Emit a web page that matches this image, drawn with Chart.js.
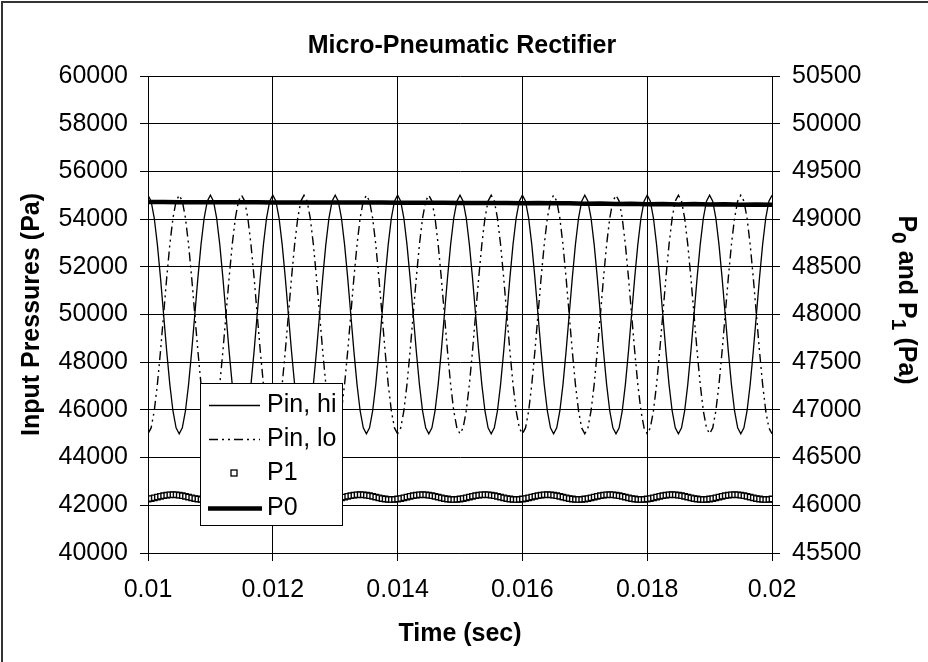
<!DOCTYPE html>
<html>
<head>
<meta charset="utf-8">
<script src="https://cdn.jsdelivr.net/npm/chart.js@4/dist/chart.umd.min.js"></script>
<style>
html,body{margin:0;padding:0;background:#fff;}
canvas{display:block;}
</style>
</head>
<body>
<canvas id="c" width="928" height="662"></canvas>
<script>
// ---- DATA ----
const time = [
0.01000,0.01005,0.01010,0.01015,0.01020,0.01025,0.01030,0.01035,0.01040,0.01045,
0.01050,0.01055,0.01060,0.01065,0.01070,0.01075,0.01080,0.01085,0.01090,0.01095,
0.01100,0.01105,0.01110,0.01115,0.01120,0.01125,0.01130,0.01135,0.01140,0.01145,
0.01150,0.01155,0.01160,0.01165,0.01170,0.01175,0.01180,0.01185,0.01190,0.01195,
0.01200,0.01205,0.01210,0.01215,0.01220,0.01225,0.01230,0.01235,0.01240,0.01245,
0.01250,0.01255,0.01260,0.01265,0.01270,0.01275,0.01280,0.01285,0.01290,0.01295,
0.01300,0.01305,0.01310,0.01315,0.01320,0.01325,0.01330,0.01335,0.01340,0.01345,
0.01350,0.01355,0.01360,0.01365,0.01370,0.01375,0.01380,0.01385,0.01390,0.01395,
0.01400,0.01405,0.01410,0.01415,0.01420,0.01425,0.01430,0.01435,0.01440,0.01445,
0.01450,0.01455,0.01460,0.01465,0.01470,0.01475,0.01480,0.01485,0.01490,0.01495,
0.01500,0.01505,0.01510,0.01515,0.01520,0.01525,0.01530,0.01535,0.01540,0.01545,
0.01550,0.01555,0.01560,0.01565,0.01570,0.01575,0.01580,0.01585,0.01590,0.01595,
0.01600,0.01605,0.01610,0.01615,0.01620,0.01625,0.01630,0.01635,0.01640,0.01645,
0.01650,0.01655,0.01660,0.01665,0.01670,0.01675,0.01680,0.01685,0.01690,0.01695,
0.01700,0.01705,0.01710,0.01715,0.01720,0.01725,0.01730,0.01735,0.01740,0.01745,
0.01750,0.01755,0.01760,0.01765,0.01770,0.01775,0.01780,0.01785,0.01790,0.01795,
0.01800,0.01805,0.01810,0.01815,0.01820,0.01825,0.01830,0.01835,0.01840,0.01845,
0.01850,0.01855,0.01860,0.01865,0.01870,0.01875,0.01880,0.01885,0.01890,0.01895,
0.01900,0.01905,0.01910,0.01915,0.01920,0.01925,0.01930,0.01935,0.01940,0.01945,
0.01950,0.01955,0.01960,0.01965,0.01970,0.01975,0.01980,0.01985,0.01990,0.01995,
0.02000];

const pinHi = [
55000,54755,54045,52939,51545,50000,48455,47061,45955,45245,
45000,45245,45955,47061,48455,50000,51545,52939,54045,54755,
55000,54755,54045,52939,51545,50000,48455,47061,45955,45245,
45000,45245,45955,47061,48455,50000,51545,52939,54045,54755,
55000,54755,54045,52939,51545,50000,48455,47061,45955,45245,
45000,45245,45955,47061,48455,50000,51545,52939,54045,54755,
55000,54755,54045,52939,51545,50000,48455,47061,45955,45245,
45000,45245,45955,47061,48455,50000,51545,52939,54045,54755,
55000,54755,54045,52939,51545,50000,48455,47061,45955,45245,
45000,45245,45955,47061,48455,50000,51545,52939,54045,54755,
55000,54755,54045,52939,51545,50000,48455,47061,45955,45245,
45000,45245,45955,47061,48455,50000,51545,52939,54045,54755,
55000,54755,54045,52939,51545,50000,48455,47061,45955,45245,
45000,45245,45955,47061,48455,50000,51545,52939,54045,54755,
55000,54755,54045,52939,51545,50000,48455,47061,45955,45245,
45000,45245,45955,47061,48455,50000,51545,52939,54045,54755,
55000,54755,54045,52939,51545,50000,48455,47061,45955,45245,
45000,45245,45955,47061,48455,50000,51545,52939,54045,54755,
55000,54755,54045,52939,51545,50000,48455,47061,45955,45245,
45000,45245,45955,47061,48455,50000,51545,52939,54045,54755,
55000];

const pinLo = [
45000,45245,45955,47061,48455,50000,51545,52939,54045,54755,
55000,54755,54045,52939,51545,50000,48455,47061,45955,45245,
45000,45245,45955,47061,48455,50000,51545,52939,54045,54755,
55000,54755,54045,52939,51545,50000,48455,47061,45955,45245,
45000,45245,45955,47061,48455,50000,51545,52939,54045,54755,
55000,54755,54045,52939,51545,50000,48455,47061,45955,45245,
45000,45245,45955,47061,48455,50000,51545,52939,54045,54755,
55000,54755,54045,52939,51545,50000,48455,47061,45955,45245,
45000,45245,45955,47061,48455,50000,51545,52939,54045,54755,
55000,54755,54045,52939,51545,50000,48455,47061,45955,45245,
45000,45245,45955,47061,48455,50000,51545,52939,54045,54755,
55000,54755,54045,52939,51545,50000,48455,47061,45955,45245,
45000,45245,45955,47061,48455,50000,51545,52939,54045,54755,
55000,54755,54045,52939,51545,50000,48455,47061,45955,45245,
45000,45245,45955,47061,48455,50000,51545,52939,54045,54755,
55000,54755,54045,52939,51545,50000,48455,47061,45955,45245,
45000,45245,45955,47061,48455,50000,51545,52939,54045,54755,
55000,54755,54045,52939,51545,50000,48455,47061,45955,45245,
45000,45245,45955,47061,48455,50000,51545,52939,54045,54755,
55000,54755,54045,52939,51545,50000,48455,47061,45955,45245,
45000];

const p1 = [
46066,46071,46078,46086,46094,46101,46106,46110,46111,46110,
46106,46101,46094,46086,46078,46071,46066,46062,46061,46062,
46066,46071,46078,46086,46094,46101,46106,46110,46111,46110,
46106,46101,46094,46086,46078,46071,46066,46062,46061,46062,
46066,46071,46078,46086,46094,46101,46106,46110,46111,46110,
46106,46101,46094,46086,46078,46071,46066,46062,46061,46062,
46066,46071,46078,46086,46094,46101,46106,46110,46111,46110,
46106,46101,46094,46086,46078,46071,46066,46062,46061,46062,
46066,46071,46078,46086,46094,46101,46106,46110,46111,46110,
46106,46101,46094,46086,46078,46071,46066,46062,46061,46062,
46066,46071,46078,46086,46094,46101,46106,46110,46111,46110,
46106,46101,46094,46086,46078,46071,46066,46062,46061,46062,
46066,46071,46078,46086,46094,46101,46106,46110,46111,46110,
46106,46101,46094,46086,46078,46071,46066,46062,46061,46062,
46066,46071,46078,46086,46094,46101,46106,46110,46111,46110,
46106,46101,46094,46086,46078,46071,46066,46062,46061,46062,
46066,46071,46078,46086,46094,46101,46106,46110,46111,46110,
46106,46101,46094,46086,46078,46071,46066,46062,46061,46062,
46066,46071,46078,46086,46094,46101,46106,46110,46111,46110,
46106,46101,46094,46086,46078,46071,46066,46062,46061,46062,
46066];

const p0Time = [
0.01000,0.01025,0.01050,0.01075,0.01100,0.01125,0.01150,0.01175,0.01200,0.01225,
0.01250,0.01275,0.01300,0.01325,0.01350,0.01375,0.01400,0.01425,0.01450,0.01475,
0.01500,0.01525,0.01550,0.01575,0.01600,0.01625,0.01650,0.01675,0.01700,0.01725,
0.01750,0.01775,0.01800,0.01825,0.01850,0.01875,0.01900,0.01925,0.01950,0.01975,
0.02000];
const p0 = [
49178,49178,49177,49177,49177,49176,49176,49176,49175,49175,
49175,49174,49174,49174,49173,49173,49172,49172,49171,49171,
49170,49169,49169,49168,49167,49169,49165,49166,49162,49164,
49159,49161,49156,49159,49154,49157,49152,49155,49151,49154,
49150];

const xTickVals = [0.01,0.012,0.014,0.016,0.018,0.02];
const xTickLabels = ['0.01','0.012','0.014','0.016','0.018','0.02'];
const leftTickVals = [40000,42000,44000,46000,48000,50000,52000,54000,56000,58000,60000];
const leftTickLabels = ['40000','42000','44000','46000','48000','50000','52000','54000','56000','58000','60000'];
const rightTickVals = [45500,46000,46500,47000,47500,48000,48500,49000,49500,50000,50500];
const rightTickLabels = ['45500','46000','46500','47000','47500','48000','48500','49000','49500','50000','50500'];

const seriesNames = ['Pin, hi','Pin, lo','P1','P0'];
const chartTitle = 'Micro-Pneumatic Rectifier';
const xTitle = 'Time (sec)';
const yLeftTitle = 'Input Pressures (Pa)';

// ---- CHART ----
const FONT = '"Liberation Sans", Arial, Helvetica, sans-serif';
Chart.defaults.font.family = FONT;
Chart.defaults.font.size = 25;
Chart.defaults.color = '#000';

const pts = (xs, ys) => xs.map((x, i) => ({x: x, y: ys[i]}));

const decor = {
  id: 'decor',
  afterDraw(chart) {
    const ctx = chart.ctx;
    const ca = chart.chartArea;
    ctx.save();
    // outer frame
    ctx.strokeStyle = '#333';
    ctx.lineWidth = 2;
    ctx.beginPath();
    ctx.moveTo(2, 662); ctx.lineTo(2, 2); ctx.lineTo(928, 2);
    ctx.stroke();

    ctx.fillStyle = '#000';
    // chart title
    ctx.font = 'bold 25px ' + FONT;
    ctx.textAlign = 'center';
    ctx.textBaseline = 'middle';
    ctx.fillText(chartTitle, 462, 46);
    // x title
    ctx.fillText(xTitle, (ca.left + ca.right) / 2, 634);
    // left y title
    ctx.save();
    ctx.translate(32, (ca.top + ca.bottom) / 2);
    ctx.rotate(-Math.PI / 2);
    ctx.fillText(yLeftTitle, 0, 0);
    ctx.restore();
    // right y title with subscripts
    const parts = [
      {t: 'P', sub: false}, {t: '0', sub: true}, {t: ' and P', sub: false},
      {t: '1', sub: true}, {t: ' (Pa)', sub: false}
    ];
    const bigF = 'bold 25px ' + FONT, smallF = 'bold 21px ' + FONT;
    let total = 0;
    parts.forEach(p => { ctx.font = p.sub ? smallF : bigF; p.w = ctx.measureText(p.t).width; total += p.w; });
    ctx.save();
    ctx.translate(906, 300);
    ctx.rotate(Math.PI / 2);
    ctx.textAlign = 'left';
    let px = -total / 2;
    parts.forEach(p => {
      ctx.font = p.sub ? smallF : bigF;
      ctx.fillText(p.t, px, p.sub ? 8 : 0);
      px += p.w;
    });
    ctx.restore();

    // legend box
    const lx = 200, ly = 383, lw = 142, lh = 142;
    ctx.fillStyle = '#fff';
    ctx.fillRect(lx, ly, lw, lh);
    ctx.strokeStyle = '#000';
    ctx.lineWidth = 1;
    ctx.strokeRect(lx + 0.5, ly + 0.5, lw, lh);
    const rows = [405, 439, 473, 508];
    const dsets = chart.data.datasets;
    ctx.font = '25px ' + FONT;
    ctx.textAlign = 'left';
    ctx.textBaseline = 'middle';
    dsets.forEach((d, i) => {
      const y = rows[i];
      if (d.showLine === false) {
        const s = 6;
        ctx.fillStyle = '#fff';
        ctx.fillRect(234 - s / 2, y - s / 2, s, s);
        ctx.strokeStyle = '#000';
        ctx.lineWidth = 1.3;
        ctx.strokeRect(234 - s / 2, y - s / 2, s, s);
      } else {
        ctx.strokeStyle = d.borderColor;
        ctx.lineWidth = d.borderWidth;
        ctx.setLineDash(d.borderDash || []);
        ctx.beginPath();
        ctx.moveTo(d.borderWidth > 2 ? 208 : 209, y + 0.5);
        ctx.lineTo(d.borderWidth > 2 ? 262 : 260, y + 0.5);
        ctx.stroke();
        ctx.setLineDash([]);
      }
      ctx.fillStyle = '#000';
      ctx.fillText(d.label, 267, y);
    });
    ctx.restore();
  }
};

new Chart(document.getElementById('c'), {
  type: 'line',
  data: {
    datasets: [
      {label: seriesNames[0], data: pts(time, pinHi), yAxisID: 'y', borderColor: '#000', borderWidth: 1.3,
       pointRadius: 0, fill: false, order: 3},
      {label: seriesNames[1], data: pts(time, pinLo), yAxisID: 'y', borderColor: '#000', borderWidth: 1.4,
       borderDash: [9, 4, 2, 4, 2, 4], pointRadius: 0, fill: false, order: 2},
      {label: seriesNames[2], data: pts(time, p1), yAxisID: 'y2', showLine: false, borderColor: '#000',
       backgroundColor: '#fff', pointStyle: 'rect', pointRadius: 3.8, pointBorderWidth: 1.4,
       pointBorderColor: '#000', pointBackgroundColor: '#fff', order: 1},
      {label: seriesNames[3], data: pts(p0Time, p0), yAxisID: 'y2', borderColor: '#000', borderWidth: 4.5,
       pointRadius: 0, fill: false, order: 0}
    ]
  },
  options: {
    responsive: false,
    animation: false,
    events: [],
    layout: {padding: {top: 76, left: 0, right: 0, bottom: 0}},
    plugins: {legend: {display: false}, title: {display: false}, tooltip: {enabled: false}},
    scales: {
      x: {
        type: 'linear', position: 'bottom', min: 0.01, max: 0.02,
        afterBuildTicks: s => { s.ticks = xTickVals.map(v => ({value: v})); },
        ticks: {callback: (v, i) => xTickLabels[i], padding: 14, maxRotation: 0, autoSkip: false, color: '#000'},
        grid: {color: '#000', lineWidth: 1, tickLength: 8},
        border: {color: '#000', width: 1},
        afterFit: s => { s.height = 109; }
      },
      y: {
        type: 'linear', position: 'left', min: 40000, max: 60000,
        afterBuildTicks: s => { s.ticks = leftTickVals.map(v => ({value: v})); },
        ticks: {callback: (v, i) => leftTickLabels[i], padding: 12, color: '#000'},
        grid: {color: '#000', lineWidth: 1, tickLength: 8},
        border: {color: '#000', width: 1},
        afterFit: s => { s.width = 148; }
      },
      y2: {
        type: 'linear', position: 'right', min: 45500, max: 50500,
        afterBuildTicks: s => { s.ticks = rightTickVals.map(v => ({value: v})); },
        ticks: {callback: (v, i) => rightTickLabels[i], padding: 12, color: '#000'},
        grid: {drawOnChartArea: false, color: '#000', lineWidth: 1, tickLength: 8},
        border: {color: '#000', width: 1},
        afterFit: s => { s.width = 156; }
      }
    }
  },
  plugins: [decor]
});
</script>
</body>
</html>
